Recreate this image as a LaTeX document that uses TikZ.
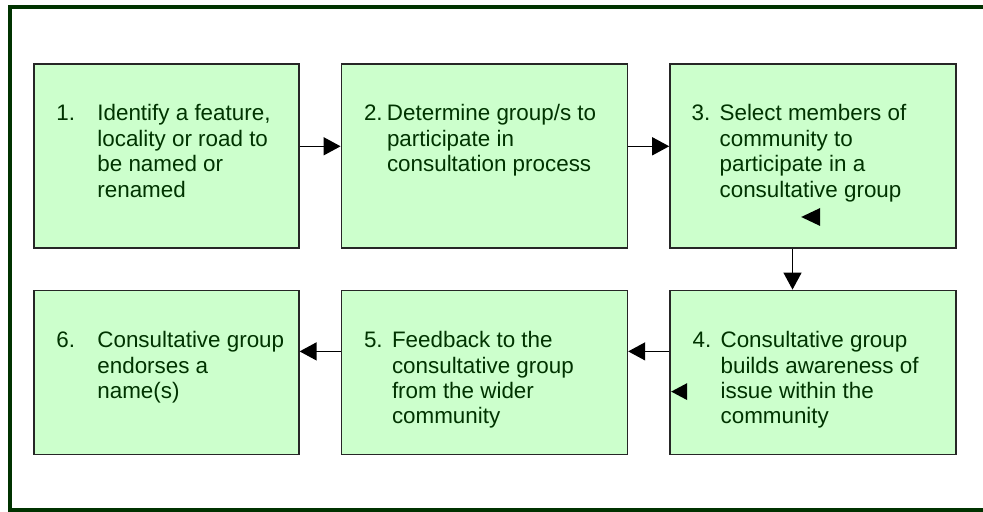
\documentclass[tikz,border=0pt]{standalone}
\usepackage{fontspec}
\setmainfont{Liberation Sans}
\usepackage{xcolor}
\usepackage{tikz}
\usetikzlibrary{arrows.meta,positioning}

\definecolor{framegreen}{HTML}{003300}
\definecolor{boxgreen}{HTML}{CCFFCC}
\definecolor{textgreen}{HTML}{003300}

\newcommand{\stepitem}[3]{\makebox[#1][l]{#2}\parbox[t]{130pt}{#3}}

\begin{document}
\begin{tikzpicture}[
  x=0.5pt, y=-0.5pt,
  node distance=20.5pt and 20.5pt,
  >=Latex,
  font=\fontsize{11.2pt}{12.7pt}\selectfont,
  stepbox/.style={rectangle, draw=black!85, fill=boxgreen, line width=0.8pt, inner sep=0pt, minimum height=92pt},
  boxwide/.style={minimum width=143pt},
  boxnarrow/.style={minimum width=132.5pt},
  boxlow/.style={minimum height=82pt},
  txt/.style={inner sep=0pt, anchor=base west, text=textgreen},
  arr/.style={-{Triangle[length=8.5pt,width=9pt]}, line width=0.7pt},
  stray/.style={fill=black}
]
\useasboundingbox (0,0) rectangle (983,512);

% Frame
\draw[framegreen, line width=2.2pt] (995,7) -- (10,7) -- (10,510) -- (995,510);

% Top row
\node[stepbox, boxnarrow, anchor=north west] (b1) at (33,63) {};
\node[stepbox, boxwide, right=of b1] (b2) {};
\node[stepbox, boxwide, right=of b2] (b3) {};

% Bottom row, right to left
\node[stepbox, boxwide, boxlow, below=of b3] (b4) {};
\node[stepbox, boxwide, boxlow, left=of b4] (b5) {};
\node[stepbox, boxnarrow, boxlow, left=of b5] (b6) {};

% Texts
\node[txt] (t1) at ([shift={(11.5pt,-29pt)}]b1.north west)
  {\stepitem{20.5pt}{1.}{Identify a feature,\\locality or road to\\be named or\\renamed}};
\node[txt] (t2) at ([shift={(11.5pt,-29pt)}]b2.north west)
  {\stepitem{11.5pt}{2.}{Determine group/s to\\participate in\\consultation process}};
\node[txt] (t3) at ([shift={(11pt,-29pt)}]b3.north west)
  {\stepitem{14pt}{3.}{Select members of\\community to\\participate in a\\consultative group}};
\node[txt] (t4) at ([shift={(11.5pt,-29pt)}]b4.north west)
  {\stepitem{14pt}{4.}{Consultative group\\builds awareness of\\issue within the\\community}};
\node[txt] (t5) at ([shift={(11.5pt,-29pt)}]b5.north west)
  {\stepitem{14pt}{5.}{Feedback to the\\consultative group\\from the wider\\community}};
\node[txt] (t6) at ([shift={(11.5pt,-29pt)}]b6.north west)
  {\stepitem{20.5pt}{6.}{Consultative group\\endorses a\\name(s)}};

% Connections
\draw[arr] ([yshift=4.75pt]b1.east) -- ([yshift=4.75pt]b2.west);
\draw[arr] ([yshift=4.75pt]b2.east) -- ([yshift=4.75pt]b3.west);
\draw[arr] ([xshift=-10.25pt]b3.south) -- ([xshift=-10.25pt]b4.north);
\draw[arr] ([yshift=10.5pt]b4.west) -- ([yshift=10.5pt]b5.east);
\draw[arr] ([yshift=10.5pt]b5.west) -- ([yshift=10.5pt]b6.east);

% Loose tips
\fill[stray] ([shift={(66pt,-77pt)}]b3.north west) -- ++(9.5pt,4.5pt) -- ++(0,-9pt) -- cycle;
\fill[stray] ([shift={(1pt,-51pt)}]b4.north west) -- ++(8pt,4.25pt) -- ++(0,-8.5pt) -- cycle;

\end{tikzpicture}
\end{document}
